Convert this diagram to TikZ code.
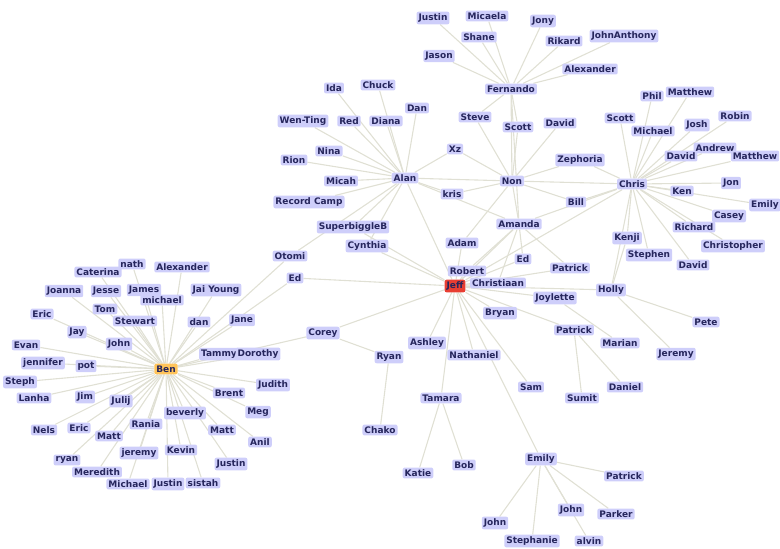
\documentclass[tikz,border=0pt]{standalone}
\usepackage{fontspec}
\setmainfont{DejaVu Sans}
\usetikzlibrary{backgrounds}

\definecolor{labelfill}{RGB}{206,206,250}
\definecolor{labeltext}{RGB}{38,38,92}
\definecolor{edgegray}{RGB}{224,224,212}
\definecolor{jeffred}{RGB}{232,62,50}
\definecolor{benorange}{RGB}{255,196,90}

\tikzset{
  person/.style={fill=labelfill, text=labeltext, rounded corners=2pt,
    inner xsep=2pt, inner ysep=2pt,
    font=\fontsize{9}{10}\selectfont\bfseries},
  hub/.style={person, fill=#1},
  edge/.style={draw=edgegray, line width=1.1pt},
}

\begin{document}
\begin{tikzpicture}[x=1pt,y=-1pt]
  \useasboundingbox (0,0) rectangle (780,549);

  % Fernando group
  \node[person] (justinA) at (433,18) {Justin};
  \node[person] (micaela) at (487,16) {Micaela};
  \node[person] (jony) at (543,21) {Jony};
  \node[person] (shane) at (479,37) {Shane};
  \node[person] (rikard) at (564,41) {Rikard};
  \node[person] (johnanthony) at (624,36) {JohnAnthony};
  \node[person] (jason) at (439,56) {Jason};
  \node[person] (alexanderA) at (590,69) {Alexander};
  \node[person] (fernando) at (511,89) {Fernando};

  % Alan group
  \node[person] (ida) at (334,88) {Ida};
  \node[person] (chuck) at (378,85) {Chuck};
  \node[person] (dan) at (417,108) {Dan};
  \node[person] (wenting) at (303,121) {Wen-Ting};
  \node[person] (red) at (349,121) {Red};
  \node[person] (diana) at (386,121) {Diana};
  \node[person] (nina) at (329,151) {Nina};
  \node[person] (rion) at (294,160) {Rion};
  \node[person] (micah) at (341,181) {Micah};
  \node[person] (alan) at (405,178) {Alan};
  \node[person] (recordcamp) at (309,202) {Record Camp};
  \node[person] (superbiggle) at (353,227) {SuperbiggleB};
  \node[person] (cynthia) at (367,246) {Cynthia};
  \node[person] (otomi) at (290,256) {Otomi};
  \node[person] (edA) at (295,278) {Ed};

  % Non and the middle
  \node[person] (steve) at (475,117) {Steve};
  \node[person] (scottA) at (518,127) {Scott};
  \node[person] (davidA) at (560,123) {David};
  \node[person] (xz) at (455,149) {Xz};
  \node[person] (non) at (512,181) {Non};
  \node[person] (kris) at (452,194) {kris};
  \node[person] (zephoria) at (580,160) {Zephoria};
  \node[person] (bill) at (576,202) {Bill};
  \node[person] (amanda) at (519,224) {Amanda};
  \node[person] (adam) at (462,243) {Adam};
  \node[person] (edB) at (523,259) {Ed};
  \node[person] (patrickA) at (570,268) {Patrick};
  \node[person] (robert) at (467,271) {Robert};
  \node[person] (christiaan) at (498,283) {Christiaan};
  \node[hub=jeffred] (jeff) at (455,286) {Jeff};
  \node[person] (joylette) at (555,298) {Joylette};
  \node[person] (holly) at (611,290) {Holly};
  \node[person] (bryan) at (500,313) {Bryan};
  \node[person] (patrickB) at (574,330) {Patrick};

  % Chris group
  \node[person] (chris) at (632,184) {Chris};
  \node[person] (phil) at (652,96) {Phil};
  \node[person] (matthewA) at (690,92) {Matthew};
  \node[person] (scottB) at (620,118) {Scott};
  \node[person] (michaelA) at (653,131) {Michael};
  \node[person] (josh) at (697,125) {Josh};
  \node[person] (robin) at (735,116) {Robin};
  \node[person] (andrew) at (715,148) {Andrew};
  \node[person] (davidB) at (681,156) {David};
  \node[person] (matthewB) at (755,156) {Matthew};
  \node[person] (ken) at (682,191) {Ken};
  \node[person] (jon) at (731,183) {Jon};
  \node[person] (emilyA) at (765,205) {Emily};
  \node[person] (casey) at (729,216) {Casey};
  \node[person] (richard) at (694,227) {Richard};
  \node[person] (kenji) at (627,238) {Kenji};
  \node[person] (christopher) at (733,246) {Christopher};
  \node[person] (stephen) at (649,255) {Stephen};
  \node[person] (davidC) at (693,265) {David};
  \node[person] (pete) at (706,322) {Pete};
  \node[person] (marian) at (620,343) {Marian};
  \node[person] (jeremyA) at (676,354) {Jeremy};
  \node[person] (sumit) at (582,398) {Sumit};
  \node[person] (daniel) at (625,387) {Daniel};

  % below Jeff
  \node[person] (corey) at (323,333) {Corey};
  \node[person] (ryanA) at (389,357) {Ryan};
  \node[person] (ashley) at (427,343) {Ashley};
  \node[person] (nathaniel) at (474,355) {Nathaniel};
  \node[person] (sam) at (531,387) {Sam};
  \node[person] (tamara) at (441,398) {Tamara};
  \node[person] (chako) at (380,430) {Chako};
  \node[person] (katie) at (418,473) {Katie};
  \node[person] (bob) at (464,465) {Bob};
  \node[person] (emilyB) at (541,459) {Emily};
  \node[person] (patrickC) at (624,476) {Patrick};
  \node[person] (johnA) at (571,510) {John};
  \node[person] (parker) at (616,514) {Parker};
  \node[person] (johnB) at (495,523) {John};
  \node[person] (stephanie) at (532,541) {Stephanie};
  \node[person] (alvin) at (589,541) {alvin};

  % Ben group
  \node[hub=benorange] (ben) at (166,369) {Ben};
  \node[person] (nath) at (132,264) {nath};
  \node[person] (alexanderB) at (182,267) {Alexander};
  \node[person] (caterina) at (98,272) {Caterina};
  \node[person] (joanna) at (64,291) {Joanna};
  \node[person] (jesse) at (106,291) {Jesse};
  \node[person] (michaelB) at (162,300) {michael};
  \node[person] (james) at (144,290) {James};
  \node[person] (jaiyoung) at (216,290) {Jai Young};
  \node[person] (tom) at (105,309) {Tom};
  \node[person] (ericA) at (42,314) {Eric};
  \node[person] (stewart) at (135,321) {Stewart};
  \node[person] (danB) at (199,322) {dan};
  \node[person] (jane) at (242,320) {Jane};
  \node[person] (jay) at (77,332) {Jay};
  \node[person] (johnC) at (119,344) {John};
  \node[person] (evan) at (26,345) {Evan};
  \node[person] (jennifer) at (43,363) {jennifer};
  \node[person] (pot) at (86,366) {pot};
  \node[person] (tammy) at (219,354) {Tammy};
  \node[person] (dorothy) at (258,354) {Dorothy};
  \node[person] (steph) at (20,382) {Steph};
  \node[person] (brent) at (229,393) {Brent};
  \node[person] (judith) at (273,385) {Judith};
  \node[person] (lanha) at (34,398) {Lanha};
  \node[person] (jim) at (85,397) {Jim};
  \node[person] (julij) at (121,401) {Julij};
  \node[person] (beverly) at (185,413) {beverly};
  \node[person] (meg) at (258,412) {Meg};
  \node[person] (rania) at (146,424) {Rania};
  \node[person] (nels) at (44,430) {Nels};
  \node[person] (ericB) at (79,428) {Eric};
  \node[person] (mattA) at (109,436) {Matt};
  \node[person] (mattB) at (222,430) {Matt};
  \node[person] (anil) at (260,442) {Anil};
  \node[person] (jeremyB) at (139,453) {jeremy};
  \node[person] (kevin) at (181,450) {Kevin};
  \node[person] (ryanB) at (67,460) {ryan};
  \node[person] (justinB) at (231,464) {Justin};
  \node[person] (meredith) at (97,472) {Meredith};
  \node[person] (michaelC) at (128,484) {Michael};
  \node[person] (justinC) at (168,484) {Justin};
  \node[person] (sistah) at (203,483) {sistah};

  \begin{pgfonlayer}{background}
    \foreach \n in {nath,alexanderB,caterina,joanna,jesse,michaelB,james,jaiyoung,
      tom,ericA,stewart,danB,jane,jay,johnC,evan,jennifer,pot,tammy,dorothy,steph,
      brent,judith,lanha,jim,julij,beverly,meg,rania,nels,ericB,mattA,mattB,anil,
      jeremyB,kevin,ryanB,justinB,meredith,michaelC,justinC,sistah,corey,edA,otomi}
      \draw[edge] (ben) -- (\n);
    \foreach \n in {ida,chuck,dan,wenting,red,diana,nina,rion,micah,recordcamp,
      superbiggle,cynthia,otomi,xz,kris,non,jeff,amanda}
      \draw[edge] (alan) -- (\n);
    \foreach \n in {xz,steve,scottA,davidA,zephoria,kris,bill,chris,amanda,fernando,adam}
      \draw[edge] (non) -- (\n);
    \foreach \n in {justinA,micaela,jony,shane,rikard,johnanthony,jason,alexanderA,
      steve,scottA,amanda}
      \draw[edge] (fernando) -- (\n);
    \foreach \n in {phil,matthewA,scottB,michaelA,josh,robin,davidB,andrew,matthewB,
      ken,jon,emilyA,casey,richard,kenji,stephen,davidC,christopher,bill,zephoria,
      amanda,holly,jeff}
      \draw[edge] (chris) -- (\n);
    \foreach \n in {cynthia,adam,robert,amanda,edB,patrickA,christiaan,joylette,holly,
      bryan,patrickB,sam,nathaniel,ashley,tamara,emilyB,corey,edA,superbiggle}
      \draw[edge] (jeff) -- (\n);
    \foreach \n in {edB,patrickA,robert,christiaan}
      \draw[edge] (amanda) -- (\n);
    \foreach \n in {pete,jeremyA,kenji}
      \draw[edge] (holly) -- (\n);
    \foreach \n in {patrickC,johnA,parker,johnB,stephanie,alvin}
      \draw[edge] (emilyB) -- (\n);
    \draw[edge] (joylette) -- (marian);
    \draw[edge] (patrickB) -- (sumit);
    \draw[edge] (patrickB) -- (daniel);
    \draw[edge] (corey) -- (ryanA);
    \draw[edge] (ryanA) -- (chako);
    \draw[edge] (tamara) -- (katie);
    \draw[edge] (tamara) -- (bob);
  \end{pgfonlayer}
\end{tikzpicture}
\end{document}
